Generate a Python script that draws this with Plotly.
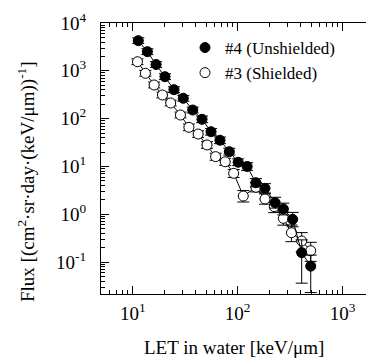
import plotly.graph_objects as go

# LET bin centres [keV/um] and flux values
let_unsh = [11.3, 13.8, 16.7, 20.3, 24.7, 30.3, 37.3, 45.7, 55.7, 67.8,
            83.2, 101, 123, 149, 182, 227, 272, 334, 407, 496]
flux_unsh = [4265, 2512, 1355, 753, 403, 266, 151, 96.7, 53.2, 35.2,
             20.3, 12.2, 9.96, 4.56, 3.48, 1.74, 1.29, 0.78, 0.157, 0.082]
# relative vertical errors (upper, lower)
rel_up_unsh = [0.15, 0.15, 0.15, 0.15, 0.15, 0.15, 0.15, 0.17, 0.17, 0.17,
               0.18, 0.18, 0.2, 0.22, 0.25, 0.3, 0.32, 0.4, 0.85, 0.7]
rel_dn_unsh = [0.13, 0.13, 0.13, 0.13, 0.13, 0.13, 0.13, 0.15, 0.15, 0.15,
               0.15, 0.15, 0.17, 0.18, 0.2, 0.23, 0.25, 0.3, 0.77, 0.72]

let_sh = [11.1, 13.2, 16.0, 19.2, 23.0, 28.5, 34.3, 42.0, 51.0, 61.6,
          76.0, 91.6, 113, 149, 182, 223, 272, 325, 407, 496]
flux_sh = [1549, 887, 505, 312, 212, 119, 65.8, 47.6, 28.1, 16.0,
           12.5, 7.17, 2.40, 3.66, 2.08, 1.44, 0.82, 0.41, 0.275, 0.172]
rel_up_sh = [0.15, 0.15, 0.15, 0.15, 0.15, 0.15, 0.17, 0.17, 0.17, 0.18,
             0.18, 0.2, 0.3, 0.25, 0.28, 0.3, 0.35, 0.45, 0.5, 0.5]
rel_dn_sh = [0.13, 0.13, 0.13, 0.13, 0.13, 0.13, 0.15, 0.15, 0.15, 0.16,
             0.16, 0.18, 0.25, 0.2, 0.22, 0.25, 0.28, 0.35, 0.4, 0.4]

x_tick_vals = [10, 100, 1000]
x_tick_text = ["10<sup>1</sup>", "10<sup>2</sup>", "10<sup>3</sup>"]
y_tick_vals = [0.1, 1, 10, 100, 1000, 10000]
y_tick_text = ["10<sup>-1</sup>", "10<sup>0</sup>", "10<sup>1</sup>",
               "10<sup>2</sup>", "10<sup>3</sup>", "10<sup>4</sup>"]

XBIN = 10 ** 0.05  # half-bin factor for horizontal bars

FONT = "'Liberation Serif', 'DejaVu Serif', serif"


def xerr(vals):
    return [v * (XBIN - 1) for v in vals], [v * (1 - 1 / XBIN) for v in vals]


fig = go.Figure()

for xs, ys, ru, rd, fill in [
    (let_sh, flux_sh, rel_up_sh, rel_dn_sh, "white"),
    (let_unsh, flux_unsh, rel_up_unsh, rel_dn_unsh, "black"),
]:
    ep, em = xerr(xs)
    fig.add_trace(go.Scatter(
        x=xs, y=ys, mode="lines+markers", showlegend=False,
        line=dict(color="black", width=1),
        marker=dict(size=10, color=fill, line=dict(color="black", width=1)),
        error_y=dict(type="data", symmetric=False,
                     array=[y * r for y, r in zip(ys, ru)],
                     arrayminus=[y * r for y, r in zip(ys, rd)],
                     color="black", thickness=1, width=6),
        error_x=dict(type="data", symmetric=False, array=ep, arrayminus=em,
                     color="black", thickness=1, width=0),
    ))

# legend-only traces
fig.add_trace(go.Scatter(x=[None], y=[None], mode="markers", name="#4 (Unshielded)",
                         marker=dict(size=10, color="black", line=dict(color="black", width=1))))
fig.add_trace(go.Scatter(x=[None], y=[None], mode="markers", name="#3 (Shielded)",
                         marker=dict(size=10, color="white", line=dict(color="black", width=1))))

axis_common = dict(showline=True, linecolor="black", linewidth=1.3,
                   ticks="inside", ticklen=8, tickcolor="black", tickwidth=1,
                   showgrid=False, zeroline=False, automargin=False,
                   tickfont=dict(family=FONT, size=19, color="black"),
                   minor=dict(ticks="inside", ticklen=4, tickcolor="black",
                              tickwidth=1, showgrid=False, dtick="D1"))

fig.update_xaxes(type="log", range=[0.698, 3.222], tickvals=x_tick_vals,
                 ticktext=x_tick_text, mirror="ticks", ticklabelstandoff=2,
                 **axis_common)
fig.update_yaxes(type="log", range=[-1.669, 4.0], tickvals=y_tick_vals,
                 ticktext=y_tick_text, mirror=False, ticklabelstandoff=10,
                 **axis_common)

fig.add_annotation(text="LET in water [keV/μm]", xref="paper", yref="paper",
                   x=0.5, y=(294 - 347) / 271, xanchor="center", yanchor="middle",
                   showarrow=False, font=dict(family=FONT, size=19, color="black"))
fig.add_annotation(text="Flux [(cm<sup>2</sup>·sr·day·(keV/μm))<sup>-1</sup>]",
                   xref="paper", yref="paper", x=(26 - 101) / 265, y=(294 - 182) / 271,
                   xanchor="center", yanchor="middle", textangle=-90,
                   showarrow=False, font=dict(family=FONT, size=19, color="black"))

fig.update_layout(
    width=366, height=361,
    margin=dict(l=101, r=0, t=23, b=67),
    plot_bgcolor="white", paper_bgcolor="white",
    font=dict(family=FONT, color="black"),
    legend=dict(x=(185 - 101) / 265, y=(294 - 30) / 271, xanchor="left", yanchor="top",
                font=dict(family=FONT, size=17, color="black"),
                bgcolor="rgba(0,0,0,0)", itemwidth=30, tracegroupgap=0),
)

fig.write_html("out.html", config={"displayModeBar": False},
               post_script="document.body.style.margin='0';document.body.style.overflow='hidden';")
